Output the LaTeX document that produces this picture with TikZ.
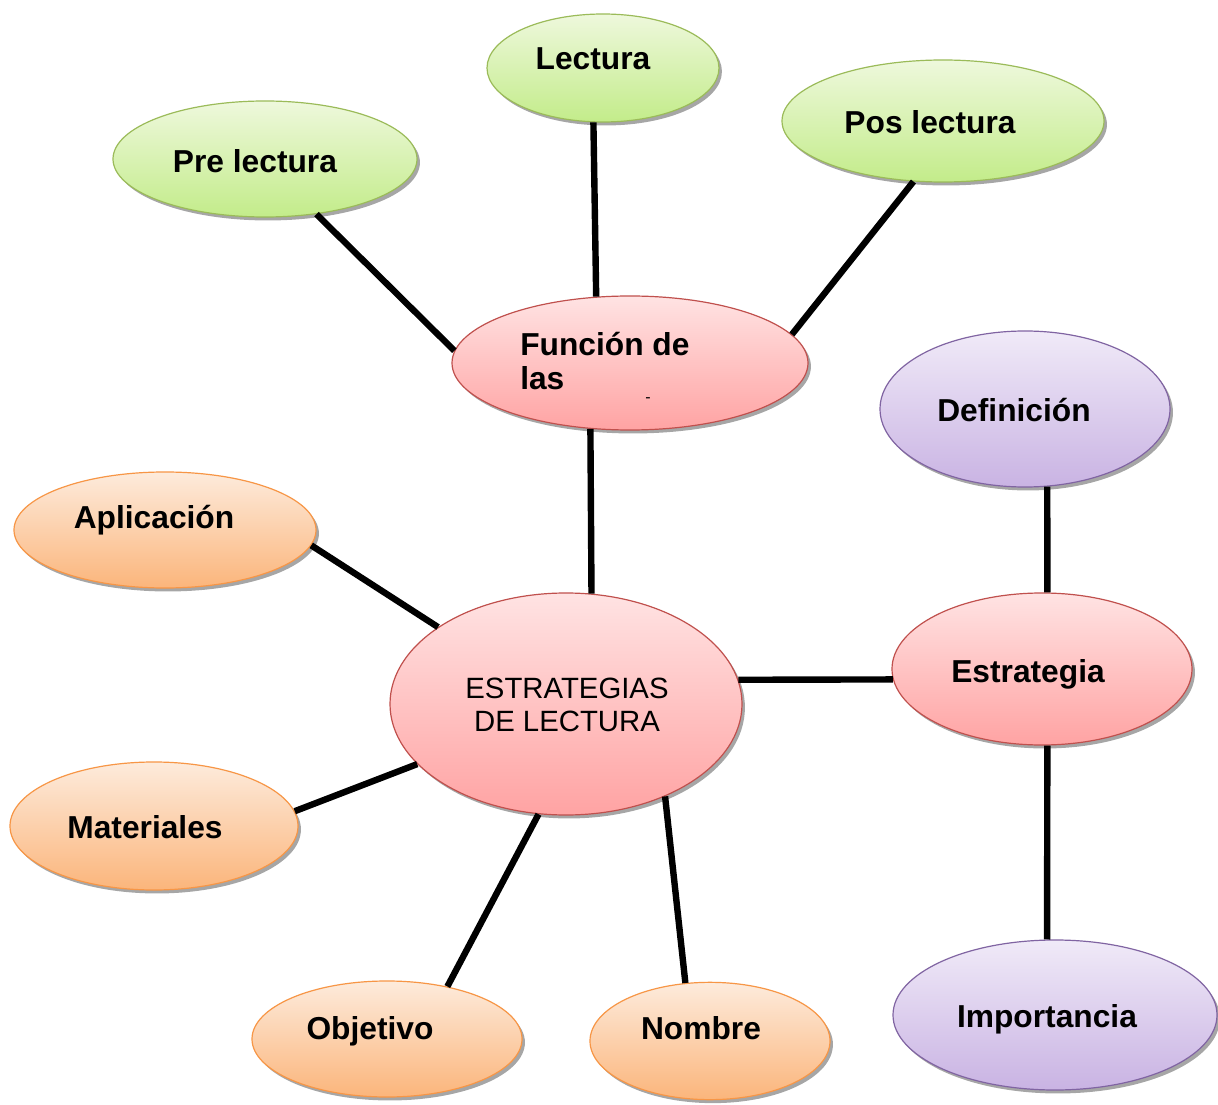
\documentclass[tikz,border=0pt]{standalone}
\usepackage{fontspec}
\setmainfont{Liberation Sans}
\usetikzlibrary{shapes.geometric,shadows}
\definecolor{gTop}{HTML}{EEF8DC}\definecolor{gBot}{HTML}{C3EC8A}\definecolor{gBor}{HTML}{9BBB59}
\definecolor{pTop}{HTML}{FFE3E3}\definecolor{pBot}{HTML}{FFA3A3}\definecolor{pBor}{HTML}{C0504D}
\definecolor{vTop}{HTML}{F0EAF8}\definecolor{vBot}{HTML}{C9B3E3}\definecolor{vBor}{HTML}{8064A2}
\definecolor{oTop}{HTML}{FDEBDC}\definecolor{oBot}{HTML}{FBB57B}\definecolor{oBor}{HTML}{F79646}
\tikzset{
  blob/.style={ellipse, inner sep=0pt, line width=0.9pt,
    drop shadow={shadow xshift=2.2pt, shadow yshift=-2.6pt, fill=black, opacity=0.35}},
  gblob/.style={blob, draw=gBor, top color=gTop, bottom color=gBot},
  pblob/.style={blob, draw=pBor, top color=pTop, bottom color=pBot},
  vblob/.style={blob, draw=vBor, top color=vTop, bottom color=vBot},
  oblob/.style={blob, draw=oBor, top color=oTop, bottom color=oBot},
  lbl/.style={font=\fontsize{23.8}{26}\selectfont\bfseries, inner sep=0pt},
  link/.style={line width=4.8pt, black}
}
\begin{document}
\begin{tikzpicture}[x=0.75pt, y=-0.75pt]
\clip (0,0) rectangle (1218,1105);
\fill[white] (0,0) rectangle (1218,1105);
% ellipses
\node[gblob, minimum width=174pt, minimum height=81pt] (lect) at (603,68) {};
\node[gblob, minimum width=228pt, minimum height=87pt] (pre) at (265,159) {};
\node[gblob, minimum width=241.5pt, minimum height=91.5pt] (pos) at (943,121) {};
\node[pblob, minimum width=267pt, minimum height=100.5pt] (fun) at (630,363) {};
\node[vblob, minimum width=217.5pt, minimum height=117pt] (def) at (1025,409) {};
\node[oblob, minimum width=226.5pt, minimum height=87pt] (apl) at (165,530) {};
\node[pblob, minimum width=264pt, minimum height=166.5pt] (est) at (566,704) {};
\node[pblob, minimum width=225pt, minimum height=114pt] (estr) at (1042,669) {};
\node[oblob, minimum width=216pt, minimum height=96pt] (mat) at (154,826) {};
\node[oblob, minimum width=202.5pt, minimum height=87pt] (obj) at (387,1039) {};
\node[oblob, minimum width=180pt, minimum height=88pt] (nom) at (710,1041) {};
\node[vblob, minimum width=243pt, minimum height=112.5pt] (imp) at (1055,1015) {};
% labels
\node[lbl] (tlect) at (593,59) {Lectura};
\node[lbl] (tpre) at (255,161) {Pre lectura};
\node[lbl] (tpos) at (930,122) {Pos lectura};
\node[lbl, align=left, anchor=west] (tfun) at (520,361) {Función de\\las};
\node[font=\fontsize{12}{12}\selectfont, inner sep=0pt] (tdash) at (648,400) {-};
\node[lbl] (tdef) at (1014,410) {Definición};
\node[lbl] (tapl) at (154,520) {Aplicación};
\node[font=\fontsize{22}{25}\selectfont, align=center, inner sep=0pt] (test) at (567,705) {ESTRATEGIAS\\DE LECTURA};
\node[lbl] (testr) at (1028,674) {Estrategia};
\node[lbl] (tmat) at (145,827) {Materiales};
\node[lbl] (tobj) at (370,1031) {Objetivo};
\node[lbl] (tnom) at (701,1028) {Nombre};
\node[lbl] (timp) at (1047,1019) {Importancia};
% connectors
\draw[link] (pre.-47.7) -- (fun.176.5);
\draw[link] (lect.-100.5) -- (fun.117.9);
\draw[link] (pos.-116.6) -- (fun.10.5);
\draw[link] (fun.-121) -- (est.77);
\draw[link] (apl.-6.8) -- (est.149.8);
\draw[link] (est.8.4) -- (estr.184.2);
\draw[link] (mat.6.5) -- (est.-158.6);
\draw[link] (obj.41.2) -- (est.-104.5);
\draw[link] (nom.113.2) -- (est.-43.5);
\draw[link] (def.-74) -- (estr.86.2);
\draw[link] (estr.-86.2) -- (imp.96.1);
\end{tikzpicture}
\end{document}
